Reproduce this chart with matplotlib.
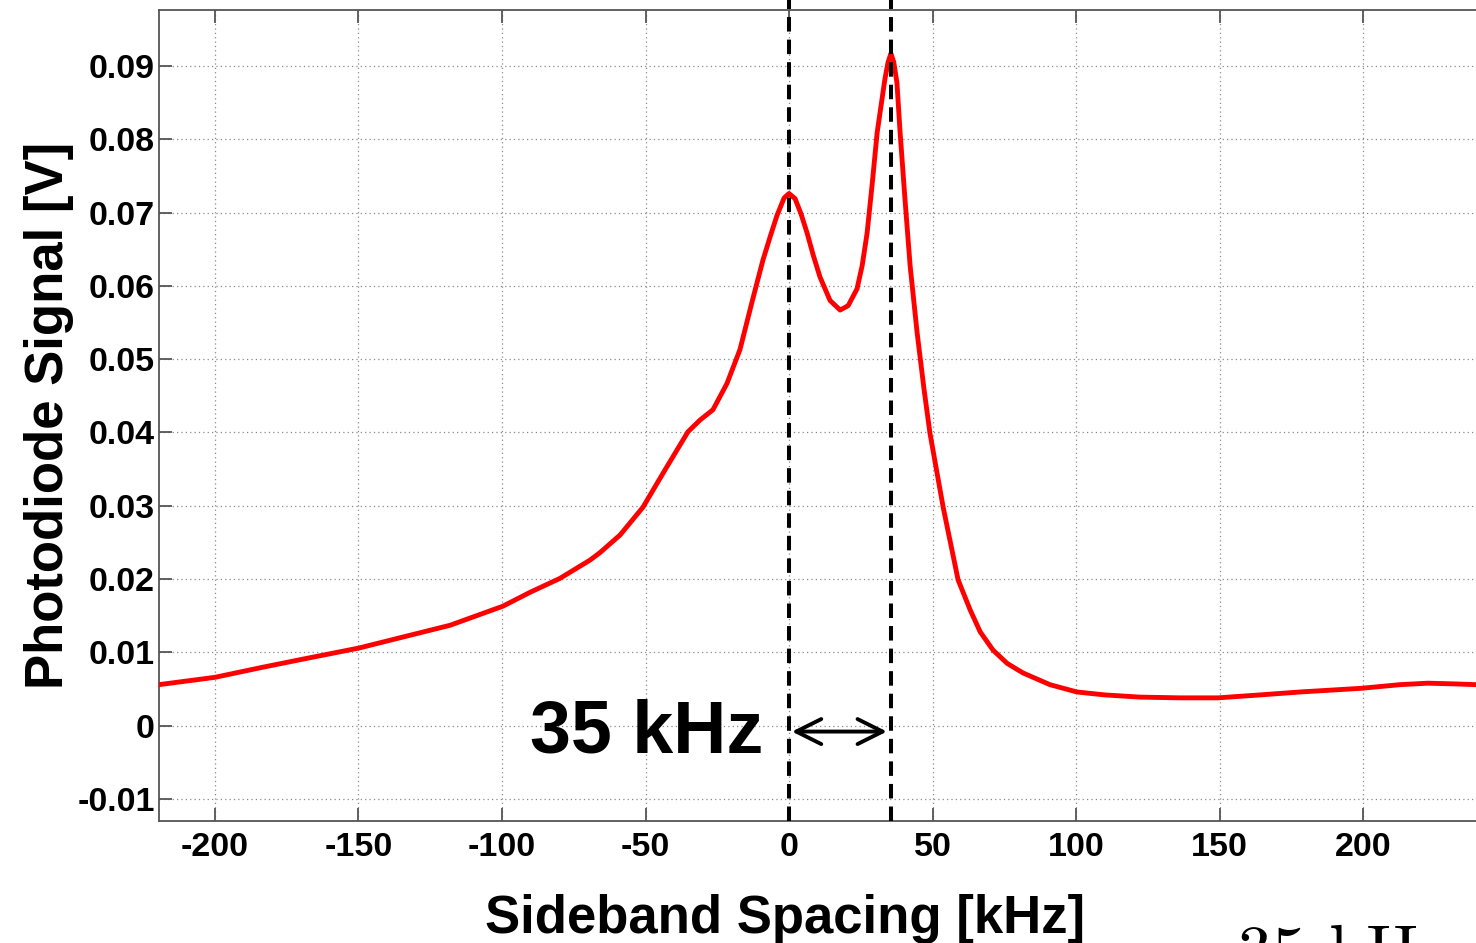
import matplotlib
matplotlib.use('Agg')
import matplotlib.pyplot as plt

# ---- data ----
freq_khz = [-219.5, -200.0, -184.3, -170.4, -149.8, -135.5, -118.1, -99.7, -90.2, -79.8,
            -69.3, -65.9, -58.9, -50.9, -43.2, -35.2, -31.0, -26.5, -21.6, -17.1,
            -12.9, -9.1, -6.5, -4.2, -1.7, 0.0, 2.1, 4.2, 6.3, 8.5, 10.8, 14.3, 17.8,
            20.6, 23.7, 25.5, 27.2, 29.0, 30.7, 33.4, 34.5, 35.5, 36.5, 37.6, 38.7, 40.4,
            42.2, 44.6, 47.0, 49.1, 53.7, 58.9, 63.1, 66.6, 71.1, 76.0, 81.5, 90.9, 100.3,
            110.0, 122.3, 136.2, 149.5, 164.1, 178.0, 199.3, 212.9, 222.6, 232.0, 239.4, 247.7]
signal_v = [0.0056, 0.0066, 0.0079, 0.0090, 0.0106, 0.0120, 0.0137, 0.0163, 0.0182, 0.0201,
            0.0226, 0.0236, 0.0260, 0.0298, 0.0349, 0.0401, 0.0417, 0.0431, 0.0467, 0.0513,
            0.0578, 0.0635, 0.0668, 0.0696, 0.0720, 0.0726, 0.0719, 0.0698, 0.0672, 0.0641, 0.0612, 0.0580, 0.0567,
            0.0573, 0.0596, 0.0628, 0.0672, 0.0740, 0.0809, 0.0882, 0.0905, 0.0917, 0.0905, 0.0877, 0.0809, 0.0718,
            0.0627, 0.0537, 0.0460, 0.0399, 0.0298, 0.0199, 0.0158, 0.0128, 0.0103, 0.0085, 0.0072, 0.0056, 0.0046,
            0.0042, 0.0039, 0.0038, 0.0038, 0.0042, 0.0046, 0.0051, 0.0056, 0.0058, 0.0057, 0.0056, 0.0055]
peak_positions_khz = [0.0, 35.5]
spacing_label = "35 kHz"
xtick_values = [-200, -150, -100, -50, 0, 50, 100, 150, 200]
ytick_values = [-0.01, 0.0, 0.01, 0.02, 0.03, 0.04, 0.05, 0.06, 0.07, 0.08, 0.09]
ytick_labels = ['-0.01', '0', '0.01', '0.02', '0.03', '0.04', '0.05', '0.06', '0.07', '0.08', '0.09']
x_label = "Sideband Spacing [kHz]"
y_label = "Photodiode Signal [V]"

plt.rcParams['font.family'] = ['Liberation Sans', 'DejaVu Sans']
plt.rcParams['font.weight'] = 'bold'

W, H = 1476, 943
fig = plt.figure(figsize=(W / 100, H / 100), dpi=100)
left_px, right_px, top_px, bottom_px = 159, 1500, 9.5, 821
ax = fig.add_axes([left_px / W, 1 - bottom_px / H, (right_px - left_px) / W, (bottom_px - top_px) / H])
xlo, xhi = -219.5, 247.7
ylo, yhi = -0.0130, 0.0977
ax.set_xlim(xlo, xhi)
ax.set_ylim(ylo, yhi)

ax.grid(True, color='#8a8a8a', linestyle=(0, (1, 2.5)), linewidth=0.9)
ax.set_axisbelow(True)

ax.plot(freq_khz, signal_v, color='#ff0000', lw=3.5, solid_joinstyle='round', zorder=3)

for p in peak_positions_khz:
    ax.plot([p, p], [ylo, yhi + 0.02], color='black', lw=2.9, dashes=(3.6, 2.0),
            clip_on=False, zorder=4)

ax.annotate('', xy=(peak_positions_khz[1] - 1.4, -0.0008), xytext=(peak_positions_khz[0] + 1.0, -0.0008),
            arrowprops=dict(arrowstyle='<->,head_length=0.9,head_width=0.45', lw=2.8,
                            color='black', shrinkA=0, shrinkB=0, mutation_scale=20), zorder=5)
ax.text(-9.0, -0.0036, spacing_label, ha='right', va='baseline', fontsize=53,
        fontweight='bold', color='black', zorder=5)

ax.set_xticks(xtick_values)
ax.set_xticklabels([str(v) for v in xtick_values])
ax.set_yticks(ytick_values)
ax.set_yticklabels(ytick_labels)
ax.tick_params(axis='both', direction='in', length=9.5, width=1.3, color='#555555',
               labelsize=24.5, top=True, right=False)
ax.tick_params(axis='x', pad=8)
ax.tick_params(axis='y', pad=3)
for s in ax.spines.values():
    s.set_color('#555555')
    s.set_linewidth(1.3)

fig.text(785 / W, 1 - 933 / H, x_label, ha='center', va='baseline', fontsize=38, fontweight='bold')
fig.text(63 / W, 1 - 415 / H, y_label, ha='center', va='baseline', rotation=90,
         rotation_mode='anchor', fontsize=38, fontweight='bold')

# fragment of text from a neighbouring figure, cut off at the bottom edge (as in the reference)
fig.text(1237 / W, -0.032, spacing_label, ha='left', va='baseline', fontsize=50,
         family='cmr10', fontweight='normal')

fig.savefig('out.png', dpi=100)
